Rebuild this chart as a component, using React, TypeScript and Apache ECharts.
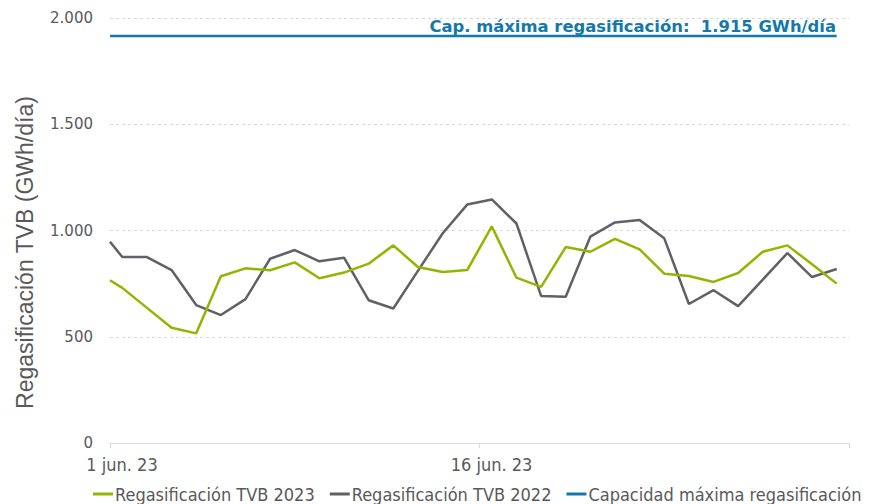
import React, { useEffect, useRef } from "react";
import * as echarts from "echarts";

// Day offsets from 1 June 2023 (x positions of the daily readings)
const dayOffsets = [
  0, 0.5, 1.5, 2.5, 3.5, 4.5, 5.5, 6.5, 7.5, 8.5, 9.5, 10.5, 11.5, 12.5, 13.5,
  14.5, 15.5, 16.5, 17.5, 18.5, 19.5, 20.5, 21.5, 22.5, 23.5, 24.5, 25.5, 26.5,
  27.5, 28.5, 29.5,
];

const tvb2023 = [
  766, 730, 636, 542, 516, 785, 822, 813, 850, 775, 802, 844, 930, 828, 805,
  814, 1019, 778, 735, 922, 900, 961, 911, 797, 786, 758, 800, 900, 930, 841, 750,
];

const tvb2022 = [
  947, 875, 875, 814, 649, 602, 677, 867, 908, 855, 872, 672, 633, 810, 986,
  1122, 1146, 1033, 692, 688, 971, 1038, 1049, 963, 654, 719, 644, 769, 894, 781, 819,
];

const capacity = 1915;
const capacityStart = 0;
const capacityEnd = 29.5;

const xTickValues = [0, 15, 30];
const xTickLabels = ["1 jun. 23", "16 jun. 23", ""];

const seriesNames = [
  "Regasificación TVB 2023",
  "Regasificación TVB 2022",
  "Capacidad máxima regasificación",
];
const colors = ["#92b500", "#5f6166", "#1479aa"];

const capLabel = "Cap. máxima regasificación:  1.915 GWh/día";

const fmtThousands = (v: number) =>
  String(Math.round(v)).replace(/\B(?=(\d{3})+(?!\d))/g, ".");

export default function App() {
  const ref = useRef<HTMLDivElement>(null);
  useEffect(() => {
    if (!ref.current) return;
    const chart = echarts.init(ref.current, undefined, { renderer: "svg" });
    const pair = (vals: number[]) => vals.map((v, i) => [dayOffsets[i], v]);
    chart.setOption({
      animation: false,
      backgroundColor: "#ffffff",
      grid: {
        left: 110,
        right: 20,
        top: 18,
        bottom: 61,
        containLabel: false,
        outerBoundsMode: "none",
      },
      xAxis: {
        type: "value",
        min: 0,
        max: 30,
        interval: 15,
        axisLine: { show: true, lineStyle: { color: "#d9d9d9", width: 1 } },
        axisTick: { show: true, length: 5, lineStyle: { color: "#d9d9d9" } },
        splitLine: { show: false },
        axisLabel: {
          formatter: (v: number) => {
            const i = xTickValues.indexOf(v);
            return i >= 0 ? xTickLabels[i] : "";
          },
          color: "#595959",
          fontFamily: "DejaVu Sans Condensed",
          fontSize: 18,
          margin: 12,
          padding: [0, 0, 0, 24],
          showMaxLabel: true,
        },
      },
      yAxis: {
        type: "value",
        min: 0,
        max: 2000,
        interval: 500,
        name: "Regasificación TVB (GWh/día)",
        nameLocation: "middle",
        nameGap: 74,
        nameTextStyle: {
          color: "#595959",
          fontFamily: "Liberation Sans",
          fontSize: 23,
          padding: [0, 44, 0, 0],
        },
        axisLine: { show: false },
        axisTick: { show: false },
        splitLine: {
          show: true,
          lineStyle: { color: "#d9d9d9", type: [3, 3], width: 1 },
        },
        axisLabel: {
          formatter: (v: number) => fmtThousands(v),
          color: "#595959",
          fontFamily: "DejaVu Sans",
          fontSize: 15,
          margin: 17,
        },
      },
      legend: {
        left: 88,
        bottom: -4,
        itemWidth: 20,
        itemHeight: 3,
        itemGap: 15,
        icon: "rect",
        textStyle: {
          color: "#595959",
          fontFamily: "DejaVu Sans Condensed",
          fontSize: 18,
          padding: [0, 0, 0, -3],
        },
        data: seriesNames,
      },
      graphic: [
        {
          type: "text",
          right: 33,
          top: 18,
          style: {
            text: capLabel,
            fill: colors[2],
            font: "bold 16.4px 'DejaVu Sans'",
          },
        },
      ],
      series: [
        {
          name: seriesNames[0],
          type: "line",
          data: pair(tvb2023),
          symbol: "none",
          lineStyle: { color: colors[0], width: 2.5 },
          itemStyle: { color: colors[0] },
          z: 3,
        },
        {
          name: seriesNames[1],
          type: "line",
          data: pair(tvb2022),
          symbol: "none",
          lineStyle: { color: colors[1], width: 2.5 },
          itemStyle: { color: colors[1] },
          z: 2,
        },
        {
          name: seriesNames[2],
          type: "line",
          data: [
            [capacityStart, capacity],
            [capacityEnd, capacity],
          ],
          symbol: "none",
          lineStyle: { color: colors[2], width: 2.5 },
          itemStyle: { color: colors[2] },
          z: 1,
        },
      ],
    });
    return () => chart.dispose();
  }, []);
  return (
    <div
      ref={ref}
      style={{ position: "fixed", left: 0, top: 0, width: 869, height: 504 }}
    />
  );
}
